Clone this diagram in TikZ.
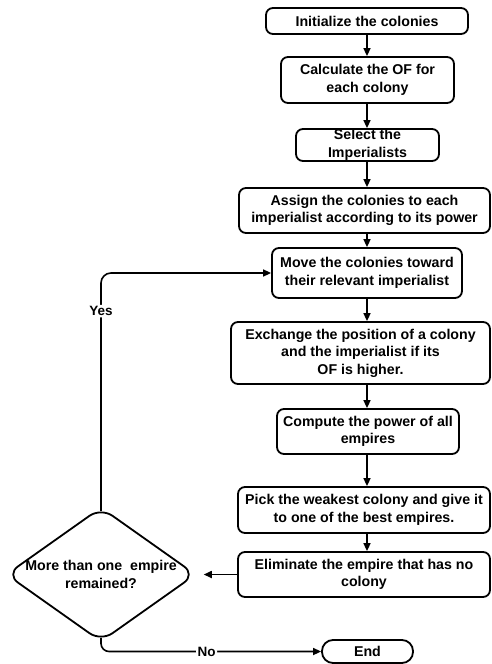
\documentclass[tikz,border=0pt]{standalone}
\usepackage{fontspec}
\setmainfont{Liberation Sans}
\usetikzlibrary{arrows.meta,shapes.geometric}
\begin{document}
\begin{tikzpicture}[x=1pt,y=-1pt,
  font=\fontsize{14.2}{17.6}\selectfont\bfseries,
  proc/.style={draw, line width=1.8pt, rounded corners=7pt, align=center, inner sep=0pt},
  term/.style={draw, line width=1.8pt, rounded corners=11pt, inner sep=0pt, minimum width=91pt, minimum height=23pt},
  decision/.style={draw, shape=diamond, line width=1.8pt, rounded corners=14pt, inner sep=0pt, minimum width=189.7pt, minimum height=134.4pt},
  arr/.style={line width=1.6pt, -{Triangle[length=8pt,width=7pt]}},
  lbl/.style={fill=white, inner sep=1.5pt, font=\fontsize{13.5}{15}\selectfont\bfseries}
]
\useasboundingbox (0,0) rectangle (492,664);
\node[proc, minimum width=202pt, minimum height=26pt] (b1) at (367,21) {Initialize the colonies};
\node[proc, minimum width=173pt, minimum height=46pt] (b2) at (367.5,80) {Calculate the OF for\\each colony};
\node[proc, minimum width=143pt, minimum height=32pt] (b3) at (367.5,145) {Select the\\Imperialists};
\node[proc, minimum width=251pt, minimum height=45pt] (b4) at (364.5,210.5) {Assign the colonies to each\\imperialist according to its power};
\node[proc, minimum width=190pt, minimum height=50pt] (b5) at (367,273) {Move the colonies toward\\their relevant imperialist};
\node[proc, minimum width=259pt, minimum height=62pt] (b6) at (360.5,353) {Exchange the position of a colony\\and the imperialist if its\\OF is higher.};
\node[proc, minimum width=182pt, minimum height=45pt] (b7) at (368,431.5) {Compute the power of all\\empires};
\node[proc, minimum width=252pt, minimum height=46pt] (b8) at (364,510) {Pick the weakest colony and give it\\to one of the best empires.};
\node[proc, minimum width=252pt, minimum height=45pt] (b9) at (364,574.5) {Eliminate the empire that has no\\colony};
\node[term] (end) at (367.5,651.5) {End};
\node[decision] (dec) at (101,574.5) {};
\node[align=center, inner sep=0pt] (dectext) at (dec.center) {More than one\ \ empire\\remained?};

\draw[arr] (b1.south) -- (b2.north -| b1.south);
\draw[arr] (b2.south -| b1.south) -- (b3.north -| b1.south);
\draw[arr] (b3.south -| b1.south) -- (b4.north -| b1.south);
\draw[arr] (b4.south -| b1.south) -- (b5.north -| b1.south);
\draw[arr] (b5.south -| b1.south) -- (b6.north -| b1.south);
\draw[arr] (b6.south -| b1.south) -- (b7.north -| b1.south);
\draw[arr] (b7.south -| b1.south) -- (b8.north -| b1.south);
\draw[arr] (b8.south -| b1.south) -- (b9.north -| b1.south);
\draw[arr, shorten >=7pt] (b9.west) -- (dec.east);
\draw[arr, rounded corners=10pt] ([yshift=-4.7pt]dec.north) |- (b5.west) node[lbl, pos=0.42] {Yes};
\draw[arr, rounded corners=8pt] ([yshift=4.7pt]dec.south) |- (end.west) node[lbl, pos=0.74] {No};
\end{tikzpicture}
\end{document}
